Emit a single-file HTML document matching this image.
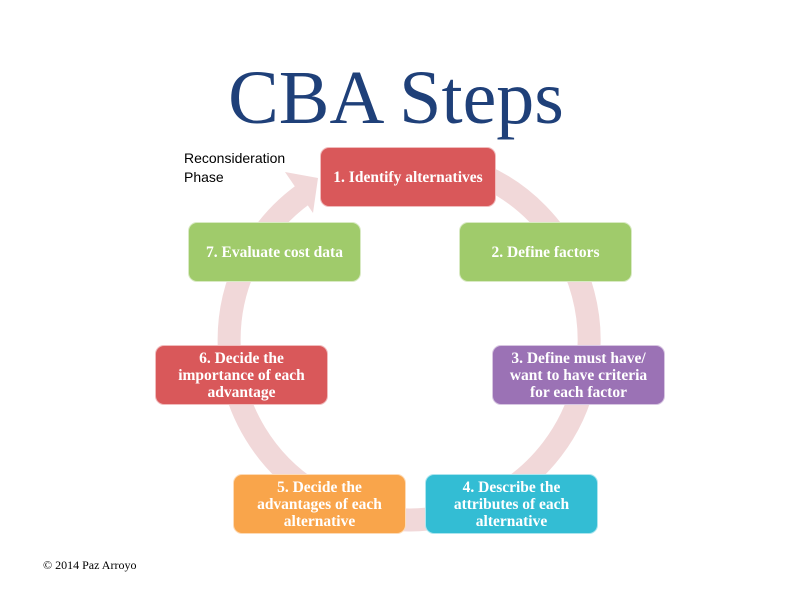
<!DOCTYPE html>
<html><head><meta charset="utf-8"><style>
body{margin:0;width:792px;height:612px;background:#fff;position:relative;overflow:hidden;font-family:"Liberation Serif",serif}
.b{position:absolute;border-radius:9px;color:#fff;font-size:15.5px;font-weight:bold;line-height:17px;display:flex;align-items:center;justify-content:center;text-align:center;width:173px;height:60px;box-sizing:border-box;border:1px solid rgba(255,255,255,.6)}
.r{background:#d9585a}.g{background:#a0cb6b}.p{background:#9b72b5}.c{background:#33bdd4}.o{background:#f9a54b}
</style></head><body>
<div style="position:absolute;left:0;width:792px;top:58px;text-align:center;font-size:76px;color:#1f4079;line-height:80px">CBA Steps</div>
<svg width="792" height="612" style="position:absolute;left:0;top:0">
<path d="M377.7,162.7 A180,180 0 1 1 303.2,194.4" fill="none" stroke="#f1d8d9" stroke-width="23"/>
<polygon points="285,172 318,178 313,213" fill="#f1d8d9"/>
</svg>
<div style="position:absolute;left:184px;top:149px;font-family:'Liberation Sans',sans-serif;font-size:14px;line-height:19px">Reconsideration<br>Phase</div>
<div class="b r" style="left:320px;top:147px;width:176px">1. Identify alternatives</div>
<div class="b g" style="left:459px;top:222px">2. Define factors</div>
<div class="b p" style="left:492px;top:345px">3. Define must have/<br>want to have criteria<br>for each factor</div>
<div class="b c" style="left:425px;top:474px">4. Describe the<br>attributes of each<br>alternative</div>
<div class="b o" style="left:233px;top:474px">5. Decide the<br>advantages of each<br>alternative</div>
<div class="b r" style="left:155px;top:345px">6. Decide the<br>importance of each<br>advantage</div>
<div class="b g" style="left:188px;top:222px">7. Evaluate cost data</div>
<div style="position:absolute;left:43px;top:558px;font-size:12px">© 2014 Paz Arroyo</div>
</body></html>
